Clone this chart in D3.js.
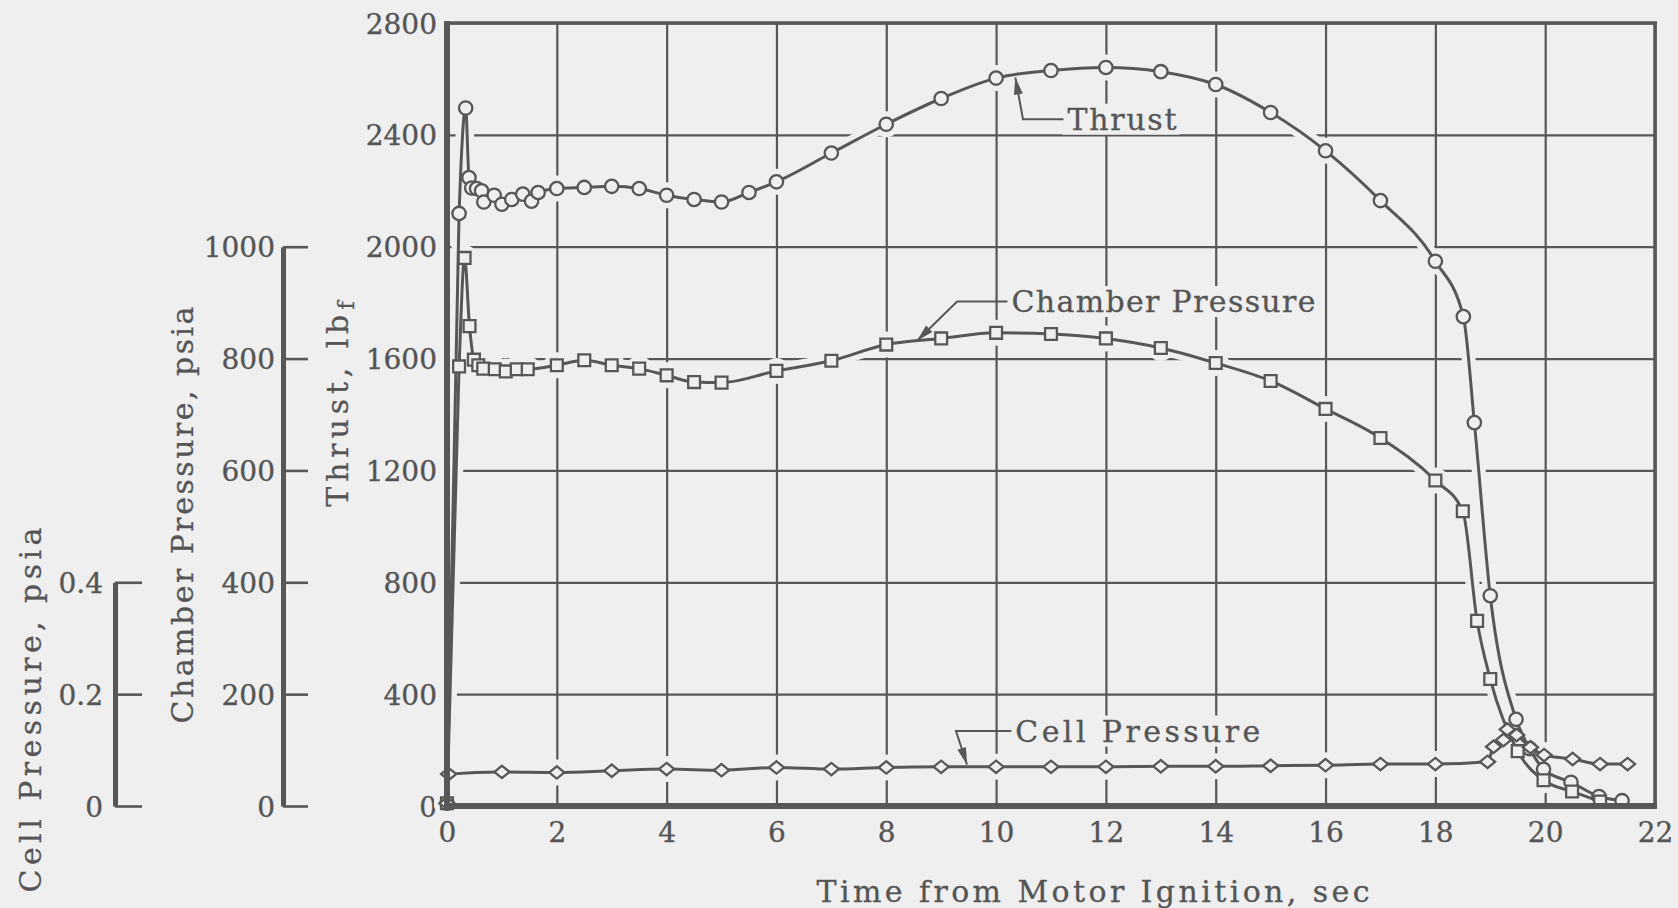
<!DOCTYPE html>
<html><head><meta charset="utf-8">
<script src="https://cdn.jsdelivr.net/npm/d3@7"></script>
<style>
html,body{margin:0;padding:0;background:#efefef;}
svg{display:block;}
text{font-family:"DejaVu Serif","Liberation Serif",serif;fill:#555;}
</style></head><body>
<svg id="chart" width="1678" height="908"></svg>
<script>
// ---------- DATA ----------
const timeTicks = [0,2,4,6,8,10,12,14,16,18,20,22];
const thrustTicks = [0,400,800,1200,1600,2000,2400,2800];
const chamberTicks = [0,200,400,600,800,1000];
const cellTicks = [0,0.2,0.4];

const thrustTime  = [0.00,0.22,0.34,0.40,0.45,0.54,0.63,0.67,0.86,1.00,1.18,1.38,1.54,1.66,2.0,2.5,3.0,3.5,4.0,4.5,5.0,5.5,6.0,7,8,9,10,11,12,13,14,15,16,17,18,18.51,18.71,19.0,19.47,19.72,19.97,20.47,20.98,21.4];
const thrustValue = [10,2119,2496,2247,2210,2208,2200,2160,2184,2152,2169,2188,2163,2194,2208,2212,2216,2208,2184,2169,2160,2194,2232,2335,2438,2530,2603,2630,2641,2626,2580,2480,2343,2165,1948,1750,1371,752,310,205,131,85,34,19];

const chamberTime  = [0.00,0.22,0.32,0.41,0.49,0.57,0.66,0.87,1.07,1.27,1.47,2.0,2.5,3.0,3.5,4.0,4.5,5.0,6.0,7,8,9,10,11,12,13,14,15,16,17,18,18.5,18.76,19.0,19.5,19.97,20.49,21.0];
const chamberValue = [5,786,980,858,798,788,782,781,777,781,781,788,797,788,782,770,758,757,778,796,825,836,846,844,836,819,792,760,710,658,582,527,331,227,98,46,26,8];

const cellTime  = [0.00,0.03,1,2,3,4,5,6,7,8,9,10,11,12,13,14,15,16,17,18,18.95,19.06,19.24,19.31,19.48,19.73,19.98,20.5,21.0,21.5];
const cellValue = [0.005,0.057,0.061,0.060,0.063,0.066,0.064,0.069,0.066,0.069,0.070,0.070,0.070,0.070,0.071,0.071,0.072,0.073,0.075,0.075,0.079,0.106,0.118,0.137,0.127,0.105,0.091,0.084,0.075,0.075];

// ---------- SETUP ----------
const INK = "#575757", BG = "#efefef", TXT = "#555";
const FONT = "DejaVu Serif, Liberation Serif, serif";
const svg = d3.select("#chart");
const x  = d3.scaleLinear().domain([0,22]).range([447,1655]);
const yT = d3.scaleLinear().domain([0,2800]).range([806,23]);
const yC = d3.scaleLinear().domain([0,1000]).range([806, yT(2000)]);
const yP = d3.scaleLinear().domain([0,0.4]).range([806, yT(800)]);

const zip = (a,b) => a.map((t,i)=>[t,b[i]]);
const series = [
  {pts: zip(thrustTime, thrustValue), y: yT, shape: "circle"},
  {pts: zip(chamberTime, chamberValue), y: yC, shape: "square"},
  {pts: zip(cellTime, cellValue), y: yP, shape: "diamond"}
];
const tickText = sel => sel.attr("font-size",28).attr("fill",TXT).attr("stroke",TXT).attr("stroke-width",0.35).style("font-family",FONT);

// ---------- GRID (via axes) ----------
const gx = svg.append("g").attr("transform",`translate(0,${yT(0)})`)
  .call(d3.axisBottom(x).tickValues(timeTicks).tickSize(-(yT(0)-yT(2800))).tickSizeOuter(0).tickFormat(d3.format("d")));
gx.select(".domain").remove();
gx.selectAll("line").attr("stroke",INK).attr("stroke-width",2.2);
gx.selectAll("text").attr("y",26).attr("dy","0.36em").call(tickText);

const gy = svg.append("g").attr("transform",`translate(${x(0)},0)`)
  .call(d3.axisLeft(yT).tickValues(thrustTicks).tickSize(-(x(22)-x(0))).tickSizeOuter(0).tickFormat(d3.format("d")));
gy.select(".domain").remove();
gy.selectAll("line").attr("stroke",INK).attr("stroke-width",2.2);
gy.selectAll("text").attr("x",-10).attr("dy","0.36em").call(tickText);

// ---------- CURVES ----------
const sym = {
  circle: d3.symbol().type(d3.symbolCircle).size(140),
  square: d3.symbol().type(d3.symbolSquare).size(140),
  diamond: d3.symbol().type(d3.symbolSquare).size(95)
};
const haloG = svg.append("g"), lineG = svg.append("g"), markG = svg.append("g");
series.forEach(s => {
  const line = d3.line().x(d=>x(d[0])).y(d=>s.y(d[1])).curve(d3.curveMonotoneX);
  haloG.append("path").attr("d", line(s.pts)).attr("fill","none").attr("stroke",BG).attr("stroke-width",14);
  haloG.selectAll(null).data(s.pts).join("circle")
    .attr("cx",d=>x(d[0])).attr("cy",d=>s.y(d[1])).attr("r",13).attr("fill",BG);
  lineG.append("path").attr("d", line(s.pts)).attr("fill","none").attr("stroke",INK).attr("stroke-width",3);
  markG.selectAll(null).data(s.pts).join("path")
    .attr("d", sym[s.shape]())
    .attr("transform", d => `translate(${x(d[0])},${s.y(d[1])})` + (s.shape==="diamond" ? " scale(1.1,0.9) rotate(45)" : ""))
    .attr("fill",BG).attr("stroke",INK).attr("stroke-width",2.3);
});

// ---------- FRAME ----------
const fr = svg.append("g").attr("stroke",INK).attr("fill","none");
fr.append("line").attr("x1",x(0)-2).attr("x2",x(22)+2).attr("y1",yT(2800)).attr("y2",yT(2800)).attr("stroke-width",3.5);
fr.append("line").attr("x1",x(22)).attr("x2",x(22)).attr("y1",yT(2800)).attr("y2",yT(0)).attr("stroke-width",3.5);
fr.append("line").attr("x1",x(0)-3).attr("x2",x(22)+2).attr("y1",yT(0)).attr("y2",yT(0)).attr("stroke-width",6);
fr.append("line").attr("x1",x(0)).attr("x2",x(0)).attr("y1",yT(2800)-2).attr("y2",yT(0)+3).attr("stroke-width",6);

// ---------- LEFT AXES ----------
function leftAxis(scale, ticks, xpos, tick, pad, fmt){
  const g = svg.append("g").attr("transform",`translate(${xpos},0)`)
    .call(d3.axisLeft(scale).tickValues(ticks).tickSize(-tick).tickSizeOuter(0).tickFormat(fmt).tickPadding(pad));
  g.select(".domain").attr("stroke",INK).attr("stroke-width",5);
  g.selectAll("line").attr("stroke",INK).attr("stroke-width",2.6);
  g.selectAll("text").attr("dy","0.36em").call(tickText);
  return g;
}
leftAxis(yC, chamberTicks, 283, 25, 8, d3.format("d"));
leftAxis(yP, cellTicks, 115, 27, 12, d => d===0 ? "0" : d3.format(".1f")(d));

// ---------- TITLES ----------
const tstyle = sel => sel.attr("font-size",30).attr("fill",TXT).attr("stroke",TXT).attr("stroke-width",0.3).attr("lengthAdjust","spacing");
svg.append("text").attr("x",1093).attr("y",891).attr("text-anchor","middle").attr("dominant-baseline","central")
  .attr("textLength",553).text("Time from Motor Ignition, sec").call(tstyle);
svg.append("text").attr("transform","translate(182,515) rotate(-90)").attr("text-anchor","middle").attr("dominant-baseline","central")
  .attr("textLength",417).text("Chamber Pressure, psia").call(tstyle);
svg.append("text").attr("transform","translate(30,710) rotate(-90)").attr("text-anchor","middle").attr("dominant-baseline","central")
  .attr("textLength",365).text("Cell Pressure, psia").call(tstyle);
const th = svg.append("text").attr("transform","translate(337,404) rotate(-90)").attr("text-anchor","middle").attr("dominant-baseline","central").call(tstyle);
th.append("tspan").attr("textLength",192).attr("lengthAdjust","spacing").text("Thrust, lb");
th.append("tspan").attr("font-size",23).attr("dy",9).text("f");

// ---------- CALLOUTS ----------
const callouts = [
  {label:"Thrust", len:109, scale:yT, tip:[10.35,2605], elbow:[10.49,2456], text:[11.3,2456]},
  {label:"Chamber Pressure", len:304, scale:yC, tip:[8.56,832], elbow:[9.29,902], text:[10.28,902]},
  {label:"Cell Pressure", len:245, scale:yP, tip:[9.47,0.074], elbow:[9.27,0.134], text:[10.35,0.134]}
];
const cg = svg.append("g");
callouts.forEach(c => {
  const tx = x(c.text[0]), ty = c.scale(c.text[1]);
  const ex = x(c.elbow[0]), ey = c.scale(c.elbow[1]);
  const px = x(c.tip[0]), py = c.scale(c.tip[1]);
  const t = cg.append("text").attr("x",tx).attr("y",ty).attr("dominant-baseline","central")
    .attr("textLength",c.len).text(c.label).call(tstyle);
  const bb = t.node().getBBox();
  cg.insert("rect","text").attr("x",bb.x-5).attr("y",bb.y+2).attr("width",bb.width+8).attr("height",bb.height-4).attr("fill",BG);
  cg.append("path").attr("d",`M${tx-4},${ey}H${ex}L${px},${py}`).attr("fill","none").attr("stroke",INK).attr("stroke-width",2);
  const ang = Math.atan2(py-ey, px-ex), L=17, w=4.5;
  const bx = px - L*Math.cos(ang), by = py - L*Math.sin(ang);
  const nx = -Math.sin(ang)*w, ny = Math.cos(ang)*w;
  cg.append("path").attr("d",`M${px},${py}L${bx+nx},${by+ny}L${bx-nx},${by-ny}Z`).attr("fill",INK);
});
</script>
</body></html>
